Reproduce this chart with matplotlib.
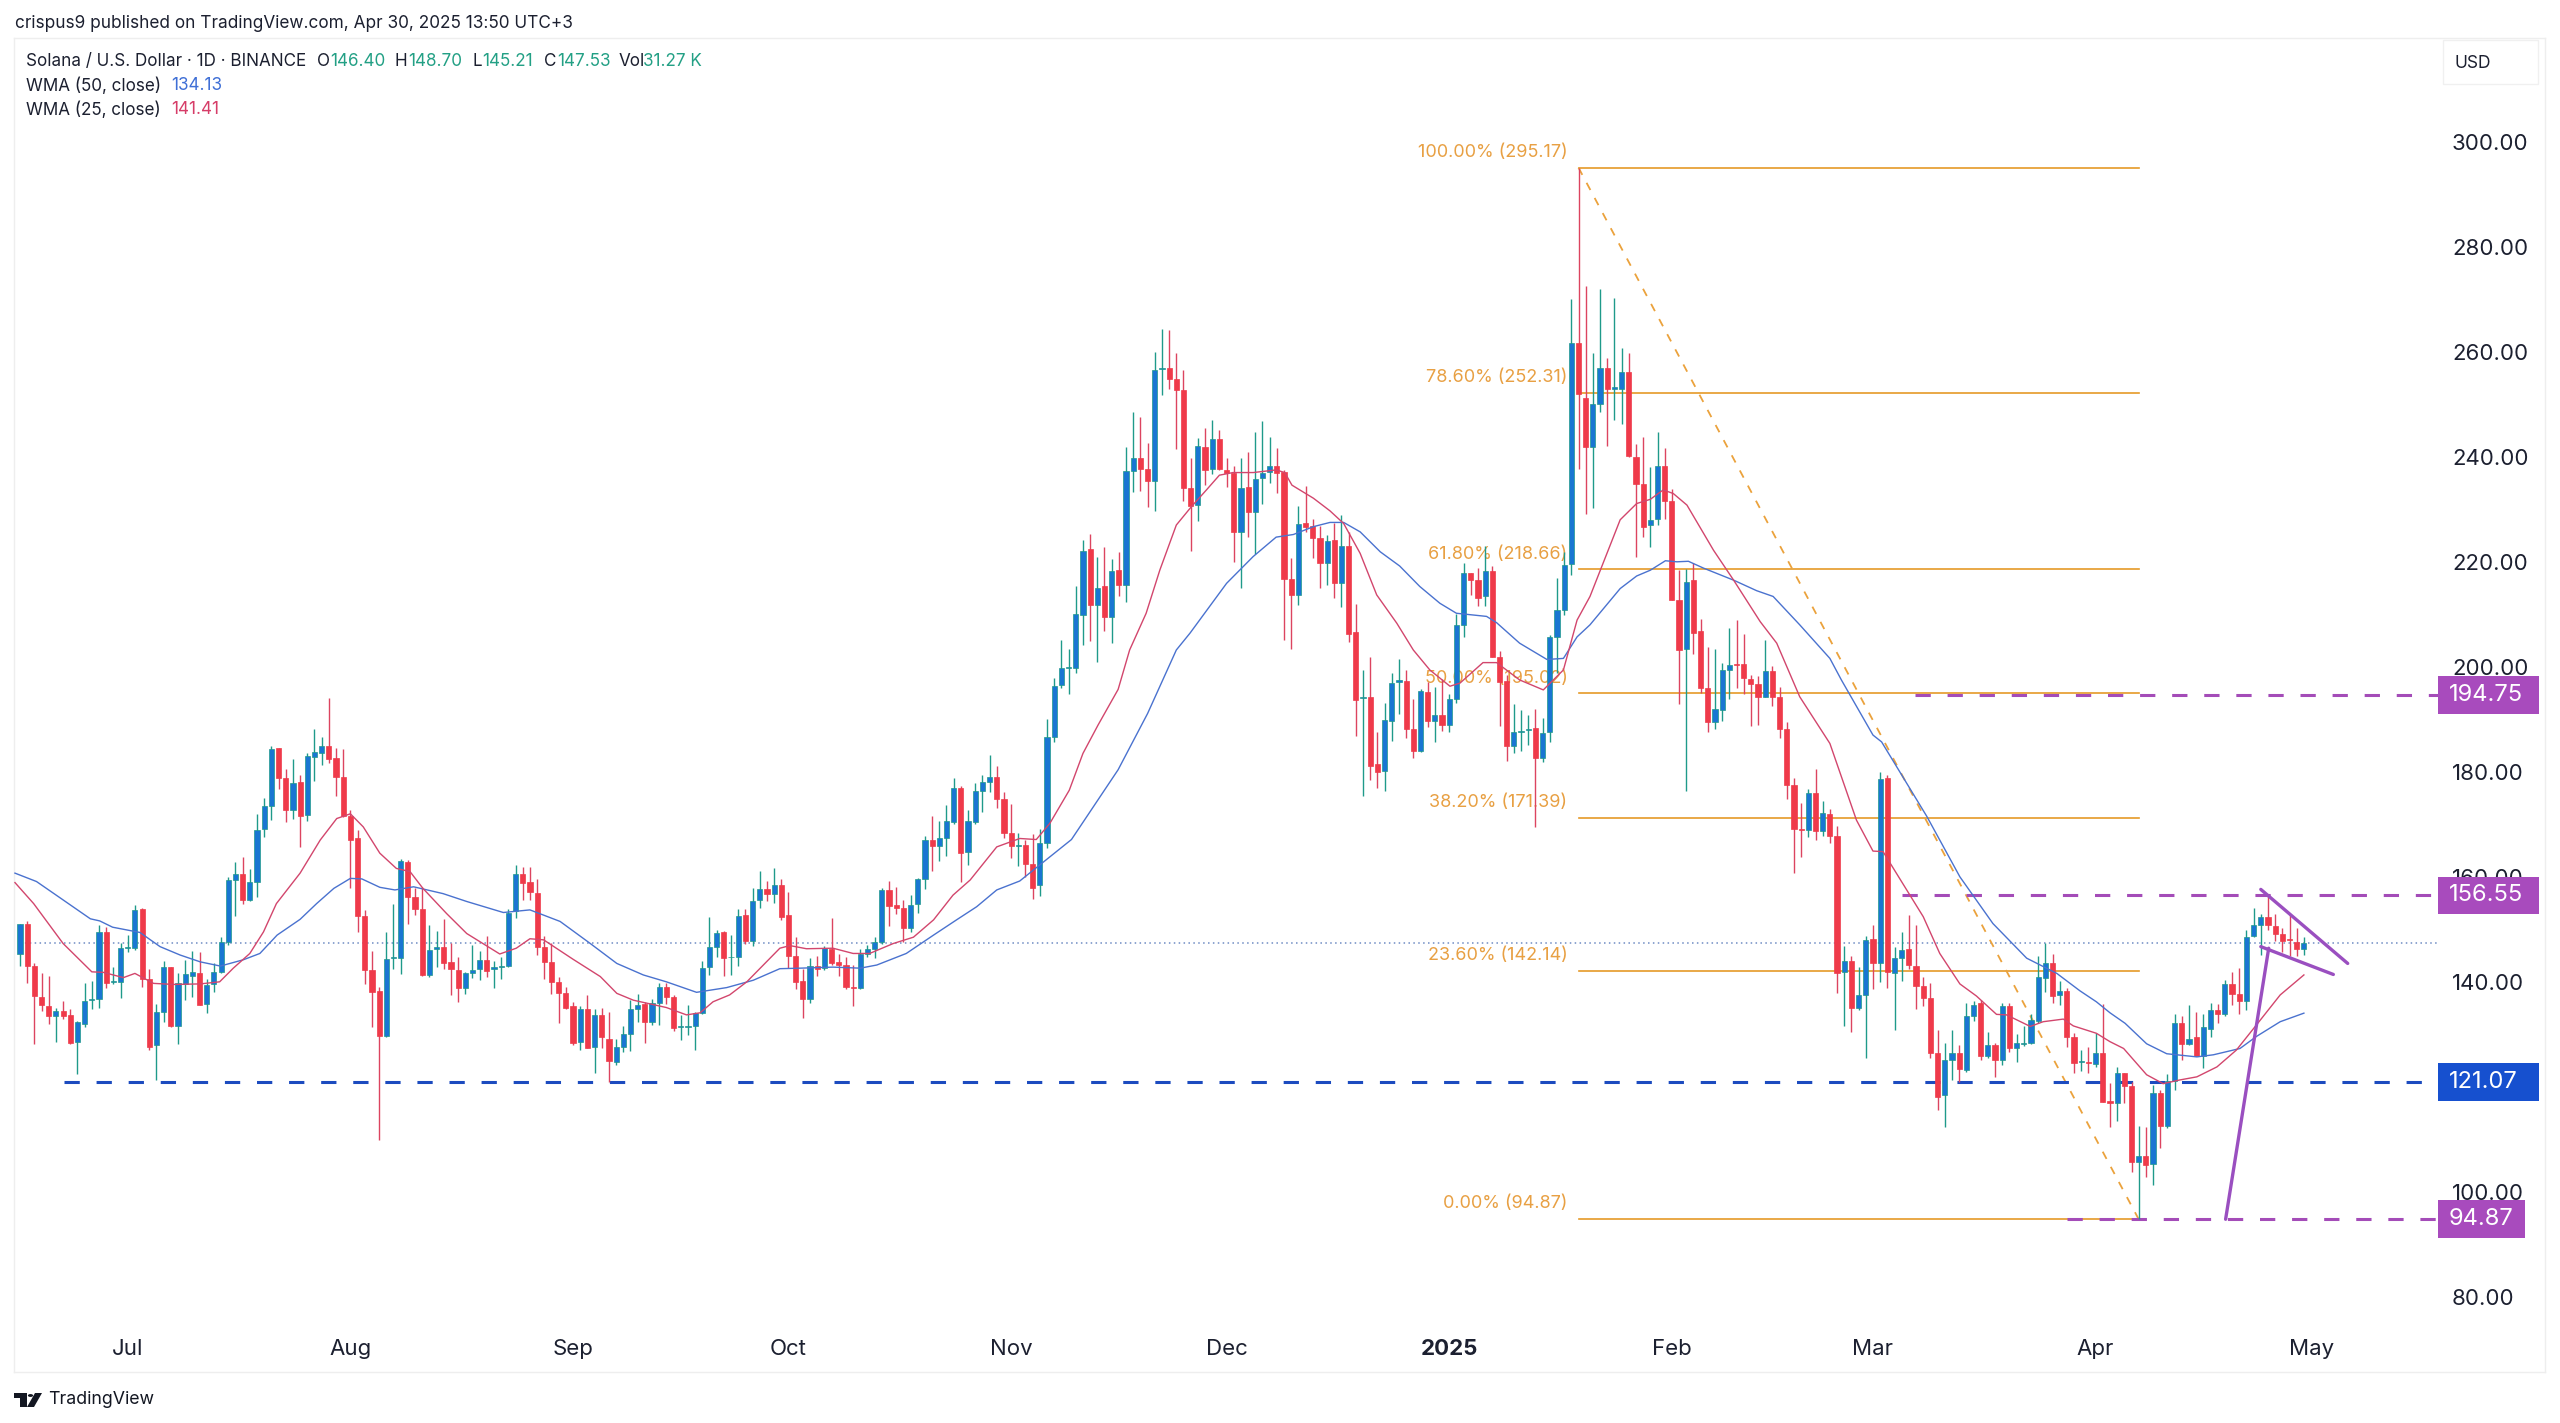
import matplotlib
matplotlib.use("Agg")
import matplotlib.pyplot as plt
from matplotlib.patches import Rectangle, Polygon, Circle

plt.rcParams['font.family'] = ['Inter', 'DejaVu Sans']

# daily candles, 16 Jun 2024 (day 1) to 30 Apr 2025 (day 319)
opens = [
    145.4, 151.1, 143.2, 137.3, 135.4, 133.5, 134.6, 133.7, 128.6, 132.1,
    136.6, 136.8, 149.5, 140.1, 140.1, 146.5, 146.5, 153.9, 140.7, 128.1,
    134.3, 143.0, 131.7, 139.7, 141.2, 141.8, 135.8, 139.6, 142.0, 147.6,
    159.5, 160.6, 155.6, 159.2, 169.3, 173.6, 184.6, 179.0, 172.9, 178.2,
    171.9, 183.0, 183.6, 185.0, 182.7, 179.2, 171.7, 167.4, 152.6, 142.3,
    138.3, 129.8, 144.7, 144.6, 163.0, 156.2, 154.0, 141.4, 146.3, 146.7,
    143.9, 142.3, 139.0, 141.8, 142.5, 144.3, 142.5, 142.9, 143.2, 153.5,
    160.7, 159.1, 157.1, 146.8, 143.9, 140.1, 138.0, 135.4, 128.6, 134.9,
    127.6, 133.7, 129.3, 124.9, 127.7, 130.2, 135.0, 135.9, 132.4, 136.1,
    139.2, 137.3, 131.4, 131.4, 131.7, 134.1, 143.0, 146.7, 149.5, 144.8,
    144.8, 152.8, 147.9, 155.6, 157.7, 156.8, 158.5, 152.8, 145.1, 140.2,
    136.8, 143.2, 142.7, 146.4, 143.8, 143.3, 139.2, 138.9, 145.4, 146.4,
    147.7, 157.5, 154.8, 154.1, 150.3, 154.9, 159.6, 167.2, 166.0, 167.4,
    170.6, 177.1, 164.8, 170.6, 176.4, 178.2, 179.2, 174.9, 168.4, 166.0,
    166.2, 162.5, 158.5, 166.5, 186.8, 196.6, 199.8, 199.8, 210.0, 222.5,
    211.8, 215.5, 209.5, 218.5, 215.7, 237.4, 239.8, 237.8, 235.4, 256.9,
    257.0, 254.9, 252.8, 234.1, 230.9, 242.0, 237.7, 243.4, 237.6, 237.1,
    225.8, 234.3, 229.5, 236.0, 237.2, 238.4, 237.2, 216.8, 213.7, 227.4,
    226.9, 224.7, 219.8, 224.3, 216.1, 223.1, 206.7, 194.1, 194.3, 181.5,
    180.3, 189.8, 197.2, 197.4, 188.3, 184.1, 195.3, 189.7, 191.0, 189.0,
    194.0, 208.1, 218.0, 216.6, 213.6, 218.4, 202.0, 197.4, 185.0, 187.6,
    188.1, 188.4, 182.8, 187.6, 205.8, 211.0, 219.7, 261.7, 251.3, 242.0,
    250.2, 257.1, 253.1, 253.0, 256.3, 240.1, 234.9, 227.1, 228.3, 238.3,
    231.6, 212.8, 203.4, 216.6, 206.9, 196.1, 189.6, 191.9, 199.5, 200.7,
    200.6, 197.8, 196.8, 194.4, 199.3, 194.4, 188.3, 177.5, 169.3, 169.0,
    176.1, 168.9, 172.0, 167.9, 142.0, 144.1, 135.2, 137.6, 148.2, 143.6,
    178.9, 141.8, 144.6, 146.3, 143.2, 139.3, 137.0, 126.6, 118.5, 125.3,
    126.5, 123.3, 133.6, 136.1, 126.0, 128.1, 125.2, 135.5, 127.5, 128.3,
    128.4, 132.7, 140.9, 143.6, 137.5, 138.3, 129.5, 124.8, 124.8, 124.4,
    126.6, 117.4, 117.1, 122.7, 120.3, 105.7, 106.9, 105.4, 118.9, 112.6,
    121.2, 132.2, 128.2, 129.5, 126.0, 131.2, 134.7, 133.9, 139.7, 137.8,
    136.5, 148.9, 151.0, 152.4, 150.8, 149.2, 148.2, 147.7, 146.40,
]
highs = [
    151.1, 151.6, 143.6, 141.8, 141.3, 135.2, 136.5, 135.0, 132.6, 139.8,
    140.3, 150.9, 150.5, 143.0, 147.4, 149.0, 154.7, 154.2, 142.5, 135.9,
    144.1, 143.0, 141.8, 144.3, 146.0, 145.8, 140.6, 143.6, 148.6, 160.0,
    162.9, 163.8, 161.6, 172.1, 175.2, 185.1, 184.7, 180.6, 182.5, 179.5,
    183.7, 188.3, 186.7, 194.1, 184.7, 184.4, 172.8, 169.1, 153.8, 146.0,
    139.2, 149.5, 154.9, 163.4, 163.3, 157.9, 158.1, 150.9, 149.8, 152.0,
    147.4, 144.9, 142.0, 147.2, 146.0, 148.8, 144.1, 144.8, 154.0, 162.3,
    162.0, 162.0, 159.6, 148.8, 147.4, 141.1, 139.2, 136.3, 135.4, 137.6,
    134.9, 135.2, 134.4, 129.3, 131.7, 136.6, 137.7, 136.3, 136.8, 139.9,
    139.9, 137.6, 133.8, 135.6, 134.4, 144.1, 152.4, 150.0, 149.8, 149.0,
    153.9, 154.0, 157.9, 161.3, 159.3, 161.7, 159.7, 157.3, 148.7, 142.6,
    144.6, 145.0, 146.9, 152.2, 145.4, 144.9, 143.3, 146.4, 147.1, 148.7,
    157.9, 159.3, 158.2, 155.6, 156.6, 159.8, 167.9, 171.7, 170.8, 173.8,
    179.0, 177.4, 172.9, 178.0, 179.5, 183.3, 181.2, 176.3, 173.9, 168.5,
    167.2, 168.2, 169.3, 190.1, 197.9, 205.3, 203.4, 215.4, 224.3, 225.4,
    221.0, 223.0, 220.6, 221.9, 242.0, 248.6, 247.6, 242.8, 260.0, 264.4,
    264.3, 259.9, 256.6, 239.8, 243.6, 245.5, 247.1, 245.3, 239.9, 238.4,
    239.8, 241.0, 244.9, 247.0, 243.8, 241.7, 237.5, 220.8, 230.7, 234.5,
    228.2, 227.0, 225.2, 227.4, 229.0, 225.8, 212.1, 199.5, 202.0, 187.7,
    193.3, 198.9, 201.6, 199.5, 194.0, 195.8, 197.3, 196.3, 197.7, 194.9,
    210.2, 219.8, 218.0, 219.0, 223.1, 219.3, 203.2, 198.5, 193.1, 191.9,
    190.9, 192.0, 190.3, 206.2, 217.0, 222.0, 270.1, 295.2, 272.7, 259.9,
    272.0, 258.9, 270.3, 260.8, 259.9, 242.5, 243.9, 238.2, 244.9, 241.8,
    234.0, 218.5, 218.7, 219.8, 209.3, 203.9, 203.4, 200.9, 207.4, 209.0,
    206.3, 198.5, 198.3, 205.3, 200.3, 196.2, 189.6, 179.0, 174.2, 176.8,
    180.6, 174.6, 173.1, 169.8, 146.9, 145.0, 142.9, 148.9, 151.0, 180.0,
    179.4, 146.8, 149.6, 152.8, 150.9, 141.1, 139.8, 131.0, 128.4, 131.0,
    128.1, 136.0, 136.5, 136.6, 130.6, 128.4, 136.1, 136.0, 130.2, 131.6,
    134.0, 145.0, 147.4, 145.4, 140.3, 139.0, 130.3, 127.1, 127.7, 130.3,
    135.9, 120.9, 123.8, 122.8, 121.1, 112.6, 112.4, 120.4, 119.4, 122.5,
    133.9, 133.6, 135.7, 134.4, 133.9, 136.0, 135.9, 140.4, 141.9, 142.7,
    150.0, 154.1, 153.0, 156.8, 153.1, 150.3, 153.0, 150.3, 148.70,
]
lows = [
    143.1, 139.9, 128.3, 134.6, 132.0, 128.7, 133.1, 128.3, 122.5, 131.4,
    134.9, 135.2, 139.0, 139.7, 137.1, 145.8, 146.2, 139.2, 127.1, 121.4,
    132.5, 131.4, 128.3, 136.6, 137.3, 135.6, 134.2, 138.2, 141.8, 147.2,
    152.7, 154.9, 155.4, 156.3, 167.6, 170.9, 176.9, 170.6, 171.2, 165.7,
    170.8, 178.4, 181.4, 181.7, 175.4, 171.5, 157.9, 149.5, 139.7, 131.4,
    110.0, 129.6, 142.5, 141.6, 151.2, 152.8, 141.2, 141.1, 142.9, 142.5,
    137.6, 136.2, 137.8, 140.8, 140.4, 141.1, 139.0, 140.6, 143.0, 152.2,
    155.6, 155.7, 145.2, 140.6, 137.8, 132.3, 134.9, 128.1, 127.1, 127.4,
    122.7, 127.4, 121.1, 124.3, 126.7, 127.0, 132.5, 128.4, 131.9, 131.9,
    135.9, 130.7, 129.0, 130.0, 127.1, 134.0, 141.4, 144.8, 141.2, 141.4,
    143.2, 147.3, 146.9, 154.1, 155.4, 155.2, 151.9, 142.7, 138.7, 133.3,
    136.1, 141.2, 142.3, 143.3, 141.2, 138.8, 135.4, 138.7, 144.9, 144.6,
    147.3, 150.7, 153.1, 147.7, 149.6, 153.3, 157.7, 161.3, 163.2, 164.1,
    170.2, 159.2, 162.3, 170.2, 172.5, 176.3, 173.2, 167.4, 163.6, 162.2,
    160.0, 155.8, 156.5, 165.5, 185.7, 196.0, 194.9, 198.9, 204.3, 205.0,
    201.1, 206.9, 204.7, 213.6, 212.4, 233.4, 233.6, 230.6, 229.8, 251.9,
    253.1, 241.6, 231.6, 222.2, 227.8, 234.7, 236.8, 237.6, 234.4, 220.1,
    215.2, 224.9, 221.6, 231.2, 235.1, 233.3, 205.2, 203.4, 211.8, 225.8,
    220.8, 215.2, 215.7, 213.3, 211.4, 204.8, 186.9, 175.4, 178.5, 177.1,
    176.5, 186.0, 191.2, 186.6, 182.8, 183.9, 188.6, 185.8, 187.9, 187.7,
    193.3, 205.7, 213.7, 211.6, 211.7, 201.9, 188.8, 182.2, 183.6, 184.1,
    185.2, 169.5, 182.0, 185.8, 198.9, 210.0, 217.5, 237.7, 229.3, 230.4,
    248.6, 242.2, 247.1, 246.4, 240.1, 221.1, 224.9, 222.9, 227.1, 228.2,
    212.8, 193.0, 176.5, 202.5, 195.2, 187.6, 188.2, 189.8, 193.9, 196.0,
    195.0, 188.8, 189.1, 194.3, 192.6, 186.5, 174.9, 160.9, 163.9, 167.7,
    167.2, 167.9, 166.5, 137.9, 131.6, 130.6, 134.7, 125.5, 138.7, 140.1,
    139.0, 130.9, 140.3, 142.6, 135.0, 135.4, 125.5, 115.7, 112.4, 121.4,
    121.1, 123.0, 132.7, 125.2, 125.5, 121.9, 124.3, 126.8, 124.9, 127.9,
    128.3, 132.2, 138.2, 136.0, 135.7, 127.7, 122.7, 123.2, 122.8, 123.8,
    117.2, 112.4, 113.5, 117.0, 103.9, 94.87, 103.0, 101.4, 108.4, 112.2,
    119.5, 125.3, 128.1, 125.9, 123.6, 129.5, 132.3, 133.6, 135.7, 133.9,
    134.7, 148.7, 145.3, 150.0, 147.9, 145.7, 145.0, 145.0, 145.21,
]
closes = [
    151.1, 143.2, 137.4, 135.6, 133.5, 134.5, 133.6, 128.4, 132.4, 136.5,
    136.8, 149.5, 139.8, 140.3, 146.5, 146.8, 153.8, 140.7, 127.7, 134.3,
    143.0, 131.6, 139.8, 141.5, 142.0, 135.7, 139.5, 142.0, 147.7, 159.5,
    160.6, 155.6, 159.2, 169.1, 173.6, 184.4, 179.0, 172.9, 178.0, 171.7,
    183.1, 183.9, 185.0, 182.5, 179.1, 171.6, 167.2, 152.6, 142.3, 138.2,
    129.8, 144.4, 144.9, 163.2, 156.3, 154.0, 141.4, 146.2, 146.7, 143.7,
    142.6, 139.0, 141.8, 142.3, 144.3, 142.2, 142.9, 143.2, 153.3, 160.7,
    159.0, 157.2, 146.8, 143.9, 140.1, 138.0, 135.2, 128.5, 134.9, 127.5,
    133.7, 129.5, 125.1, 127.6, 130.1, 135.0, 135.6, 132.4, 136.1, 139.2,
    137.3, 131.3, 131.7, 131.7, 134.2, 142.8, 146.7, 149.4, 144.6, 144.9,
    152.6, 147.9, 155.5, 157.7, 156.8, 158.5, 152.5, 145.1, 140.1, 136.8,
    143.1, 142.5, 146.5, 143.7, 143.3, 139.2, 138.9, 145.4, 146.3, 147.7,
    157.6, 154.5, 154.1, 150.3, 154.7, 159.6, 167.2, 166.0, 167.4, 170.7,
    177.1, 164.7, 170.7, 176.4, 178.1, 179.2, 174.9, 168.4, 166.0, 166.2,
    162.5, 158.0, 166.5, 186.7, 196.5, 199.8, 200.0, 210.1, 222.2, 211.8,
    215.2, 209.5, 218.4, 215.6, 237.4, 239.8, 237.8, 235.4, 256.6, 257.1,
    254.9, 252.8, 234.1, 230.7, 242.2, 237.6, 243.4, 237.7, 237.0, 225.8,
    234.1, 229.5, 235.9, 237.1, 238.4, 237.1, 216.9, 213.7, 227.3, 226.8,
    224.7, 219.8, 224.1, 216.1, 223.1, 206.3, 193.8, 194.4, 181.3, 180.1,
    190.0, 197.0, 197.5, 188.3, 184.1, 195.4, 189.8, 191.0, 189.0, 194.0,
    208.1, 217.9, 216.6, 213.3, 218.4, 202.0, 197.3, 185.0, 187.7, 187.9,
    188.3, 182.8, 187.4, 205.7, 211.0, 219.5, 261.7, 252.0, 241.9, 250.2,
    257.1, 253.0, 253.4, 256.2, 240.3, 235.0, 226.8, 228.1, 238.3, 231.7,
    212.8, 203.3, 216.3, 206.6, 196.0, 189.5, 192.1, 199.4, 200.5, 200.5,
    198.0, 196.9, 194.3, 199.3, 194.4, 188.3, 177.5, 169.3, 169.1, 176.0,
    168.8, 172.2, 167.9, 141.8, 144.1, 135.2, 137.6, 148.1, 143.6, 178.7,
    141.9, 144.7, 146.2, 143.3, 139.3, 137.0, 126.5, 118.2, 125.3, 126.5,
    123.4, 133.6, 135.7, 126.0, 128.1, 125.3, 135.4, 127.5, 128.4, 128.5,
    132.8, 141.1, 143.7, 137.4, 138.3, 129.5, 124.6, 125.0, 124.6, 126.6,
    117.3, 117.1, 122.7, 120.3, 105.7, 106.9, 105.3, 118.9, 112.6, 121.2,
    132.2, 128.3, 129.2, 126.0, 131.4, 134.7, 134.0, 139.7, 137.8, 136.4,
    148.7, 151.0, 152.5, 150.9, 149.3, 147.9, 148.0, 146.4, 147.53,
]

# moving averages at these days
wma50_days = [0.3, 3.3, 7.0, 10.8, 12.1, 13.9, 17.7, 20.5, 23.3, 26.1, 28.9, 32.1, 34.4, 36.8, 40.0, 42.3,
              44.7, 47.0, 48.6, 51.1, 53.2, 55.8, 59.9, 63.2, 68.3, 72.0, 76.2, 80.4, 84.1, 87.8, 91.0, 95.2,
              99.4, 103.1, 106.8, 109.6, 114.2, 118.0, 120.3, 124.4, 128.2, 131.4, 134.2, 137.0, 140.2, 147.4,
              153.9, 158.0, 162.0, 163.9, 169.0, 172.7, 175.9, 178.3, 181.1, 183.4, 185.3, 187.6, 190.4, 193.1,
              195.9, 198.7, 201.0, 205.2, 206.6, 209.8, 213.6, 215.9, 217.8, 219.6, 223.8, 226.1, 228.0, 230.1,
              231.7, 233.3, 235.4, 239.6, 242.8, 245.1, 248.8, 253.0, 254.6, 259.0, 260.2, 266.5, 271.1, 275.7,
              280.4, 284.6, 287.8, 290.1, 292.0, 294.1, 297.1, 299.9, 304.1, 306.4, 310.1, 312.4, 315.7, 319.0]
wma50 = [160.8, 159.2, 155.7, 152.1, 151.7, 150.5, 149.5, 146.8, 145.2, 143.9, 143.1, 144.3, 145.5, 149.0, 152.0, 155.0,
         157.9, 159.8, 159.7, 158.1, 157.6, 158.2, 156.9, 155.4, 153.3, 153.8, 151.6, 147.4, 143.6, 141.4, 140.1, 138.1,
         139.0, 140.4, 142.6, 142.7, 142.9, 142.7, 143.3, 145.5, 149.0, 151.9, 154.4, 157.6, 159.3, 167.2,
         180.5, 191.2, 203.3, 206.5, 216.0, 221.1, 224.8, 225.3, 226.8, 227.6, 227.6, 225.8, 222.0, 219.3,
         215.4, 212.2, 210.3, 209.7, 208.5, 204.6, 201.5, 201.7, 205.8, 208.1, 215.0, 217.4, 218.5, 220.3,
         220.1, 220.2, 218.9, 216.6, 214.6, 213.5, 208.1, 201.7, 197.6, 187.1, 185.8, 171.6, 160.1, 151.2,
         144.6, 141.7, 138.4, 136.3, 134.2, 132.2, 128.3, 126.4, 125.8, 126.2, 127.4, 129.7, 132.5, 134.13]
wma25_days = [0.3, 2.9, 7.0, 11.0, 12.6, 15.4, 17.0, 19.6, 22.4, 26.1, 28.8, 30.7, 33.0, 34.9, 36.7, 40.0,
              42.8, 45.1, 47.0, 48.8, 51.1, 53.4, 55.3, 57.1, 60.4, 63.2, 67.8, 70.1, 72.0, 73.9, 78.0, 81.8,
              84.1, 86.4, 91.0, 93.8, 95.7, 97.5, 99.8, 102.2, 104.5, 106.8, 108.2, 110.5, 114.2, 117.0, 119.3,
              122.6, 125.4, 128.2, 130.9, 133.3, 137.0, 140.2, 142.5, 144.4, 147.1, 149.0, 151.1, 153.9, 155.5,
              157.8, 159.7, 162.0, 164.1, 166.2, 168.0, 169.9, 172.7, 175.9, 177.1, 178.1, 181.1, 183.4, 185.3,
              187.6, 189.9, 192.7, 195.0, 197.3, 200.1, 201.5, 204.7, 206.6, 209.8, 213.1, 215.9, 217.8, 219.6,
              223.8, 226.1, 228.0, 229.8, 231.2, 233.1, 236.8, 239.6, 243.3, 245.6, 248.8, 253.0, 256.7, 259.0,
              260.4, 266.0, 268.3, 271.1, 273.4, 276.2, 277.6, 280.9, 282.7, 285.5, 286.9, 290.1, 292.0, 293.9,
              297.1, 299.4, 301.7, 304.1, 306.9, 309.6, 312.4, 315.7, 319.0]
wma25 = [159.0, 155.0, 147.4, 142.0, 141.9, 140.9, 141.7, 139.8, 139.6, 139.7, 140.1, 142.7, 145.5, 149.6, 155.0, 160.8,
         167.1, 171.2, 172.1, 169.6, 164.6, 161.7, 161.1, 157.9, 153.1, 149.3, 145.4, 146.5, 148.3, 148.1, 144.4, 141.1,
         137.9, 136.6, 135.2, 133.8, 134.2, 136.3, 137.6, 140.1, 143.3, 146.5, 147.0, 146.4, 146.5, 145.5, 145.5,
         147.4, 148.6, 151.9, 156.6, 159.5, 165.8, 167.4, 167.2, 170.3, 176.6, 183.6, 189.0, 195.8, 203.3,
         210.3, 218.5, 227.1, 230.6, 233.8, 236.6, 237.1, 237.1, 237.6, 237.1, 234.7, 232.2, 229.8, 227.4,
         221.7, 213.8, 208.4, 203.3, 199.5, 196.4, 197.0, 200.9, 200.9, 197.6, 195.7, 199.5, 209.0, 213.5,
         228.1, 231.2, 232.0, 233.8, 233.1, 230.9, 222.3, 216.6, 208.7, 204.6, 194.4, 185.5, 170.9, 165.0,
         164.9, 152.5, 145.5, 139.7, 137.4, 133.9, 133.8, 131.6, 132.5, 133.0, 131.7, 130.3, 128.7, 127.4,
         122.4, 120.7, 121.4, 122.0, 123.9, 127.1, 131.9, 137.6, 141.41]

fib_pct = ['100.00%', '78.60%', '61.80%', '50.00%', '38.20%', '23.60%', '0.00%']
fib_levels = [295.17, 252.31, 218.66, 195.02, 171.39, 142.14, 94.87]
fib_start, fib_end = 218, 296

month_days = [16, 47, 78, 108, 139, 169, 200, 231, 259, 290, 320]
month_labels = ['Jul', 'Aug', 'Sep', 'Oct', 'Nov', 'Dec', '2025', 'Feb', 'Mar', 'Apr', 'May']
price_ticks = list(range(80, 301, 20))

last_price = 147.53
scale_left = 337.7  # where the price scale starts, in days

# horizontal levels: value, first day, line colour, box colour, box width in days
levels = [(194.75, 264.9, '#a44cb8', '#a84bbd', 14.1),
          (156.55, 263.1, '#a44cb8', '#a84bbd', 14.1),
          (121.07, 7.1, '#1c4bbf', '#1650cf', 14.1),
          (94.87, 286.0, '#a44cb8', '#a84bbd', 12.1)]

pole_days, pole_prices = [308.1, 314.1], [94.87, 146.5]
flag_top_days, flag_top_prices = [313.0, 325.1], [157.7, 143.6]
flag_low_days, flag_low_prices = [313.0, 323.1], [146.8, 141.5]

BLUE = '#1976d2'
TEAL = '#1f9a8a'
RED = '#ef3a4a'
WICK_RED = '#dc4460'
ORANGE = '#e59a28'
INK = '#1c2030'

W, H = 2560, 1423
fig = plt.figure(figsize=(W / 100, H / 100), dpi=100)
ax = fig.add_axes([14 / W, 1 - 1372 / H, (2545 - 14) / W, (1372 - 38) / H])
ax.set_xlim(0.165, 352.57)
ax.set_ylim(65.78, 319.87)

days = list(range(1, len(opens) + 1))
up = [c >= o for o, c in zip(opens, closes)]
wick_colors = [TEAL if u else WICK_RED for u in up]
body_colors = [BLUE if u else RED for u in up]
edge_colors = [TEAL if u else RED for u in up]
bottoms = [min(o, c) for o, c in zip(opens, closes)]
heights = [abs(c - o) for o, c in zip(opens, closes)]

ax.vlines(days, lows, highs, colors=wick_colors, linewidth=1.0, zorder=4)
ax.bar(days, heights, bottom=bottoms, width=0.72, color=body_colors, edgecolor=edge_colors,
       linewidth=0.5, zorder=5)

ax.plot(wma50_days, wma50, color='#4a72cf', linewidth=1.0, zorder=6)
ax.plot(wma25_days, wma25, color='#d2466d', linewidth=1.0, zorder=6)

ax.plot([1, scale_left], [last_price, last_price], color='#6f8cc4', linewidth=1.1,
        linestyle=(0, (1, 2.2)), zorder=2)

# fib retracement
for pct, level in zip(fib_pct, fib_levels):
    ax.plot([fib_start, fib_end], [level, level], color=ORANGE, linewidth=1.2, zorder=2)
    ax.annotate(f'{pct} ({level:.2f})', (fib_start, level), xytext=(-8, 11), textcoords='offset points',
                ha='right', va='center', color='#e8a043', fontsize=13, zorder=1)
ax.plot([fib_start, fib_end], [fib_levels[0], fib_levels[-1]], color='#eba23c', linewidth=1.3,
        linestyle=(0, (4.5, 5)), zorder=3)

# support and resistance levels with their boxes on the scale
for value, start, color, box_color, box_w in levels:
    ax.plot([start, scale_left], [value, value], color=color, linewidth=2.2,
            linestyle=(0, (5, 5.5)), zorder=3)
    ax.add_patch(Rectangle((scale_left, value - 3.6), box_w, 7.2, facecolor=box_color, edgecolor='none', zorder=10))
    ax.text(scale_left + 1.5, value, f'{value:.2f}', color='white', fontsize=17, va='center', ha='left', zorder=11)

# pennant drawing
for xs, ys in [(pole_days, pole_prices), (flag_top_days, flag_top_prices), (flag_low_days, flag_low_prices)]:
    ax.plot(xs, ys, color='#9a4fc0', linewidth=2.4, zorder=7, solid_capstyle='round')

# axes, labels sit inside the frame like on TradingView
ax.yaxis.tick_right()
ax.set_yticks(price_ticks)
ax.set_yticklabels([f'{p:.2f}' for p in price_ticks], fontsize=16, color=INK)
ax.tick_params(axis='y', length=0, pad=-67)
ax.set_xticks(month_days)
ax.set_xticklabels(month_labels, fontsize=16, color=INK)
ax.tick_params(axis='x', length=0, pad=-24)
ax.get_xticklabels()[6].set_fontweight('bold')
for spine in ax.spines.values():
    spine.set_color('#eeeeee')
    spine.set_linewidth(1.0)


def put(x, y, s, color=INK, size=12.3, **kw):
    fig.text(x / W, 1 - y / H, s, color=color, fontsize=size, va='center', ha='left', **kw)


put(15, 23, 'crispus9 published on TradingView.com, Apr 30, 2025 13:50 UTC+3', size=12.4)

put(26, 62, 'Solana / U.S. Dollar · 1D · BINANCE')
green = '#23a085'
for x_lab, lab, x_val, val in [(317, 'O', 330, '146.40'), (395, 'H', 408, '148.70'),
                               (473, 'L', 482, '145.21'), (544, 'C', 557, '147.53'),
                               (619, 'Vol', 643, '31.27 K')]:
    put(x_lab, 62, lab)
    put(x_val, 62, val, color=green)
put(26, 86, 'WMA (50, close)')
put(171, 86, '134.13', color='#3f6fd6')
put(26, 110, 'WMA (25, close)')
put(171, 110, '141.41', color='#d63d68')

# USD button on the scale
fig.add_artist(Rectangle((2443 / W, 1 - 84 / H), 95 / W, 44 / H, transform=fig.transFigure,
                         facecolor='white', edgecolor='#f0f0f0', linewidth=1))
fig.text(2473 / W, 1 - 63 / H, 'USD', color=INK, fontsize=12.5, ha='center', va='center')


# TradingView mark at the bottom
def px(x, y):
    return (x / W, 1 - y / H)


logo_kw = dict(transform=fig.transFigure, facecolor='#131722', edgecolor='none')
fig.add_artist(Polygon([px(14, 1393), px(27, 1393), px(27, 1407), px(20, 1407), px(20, 1398), px(14, 1398)], **logo_kw))
fig.add_artist(Circle(px(30.5, 1395.5), 2.6 / W, **logo_kw))
fig.add_artist(Polygon([px(35, 1393), px(42, 1393), px(34, 1407), px(27, 1407)], **logo_kw))
put(48, 1400, 'TradingView', color='#131722', size=12.8)

fig.savefig('out.png', dpi=100, facecolor='white')
